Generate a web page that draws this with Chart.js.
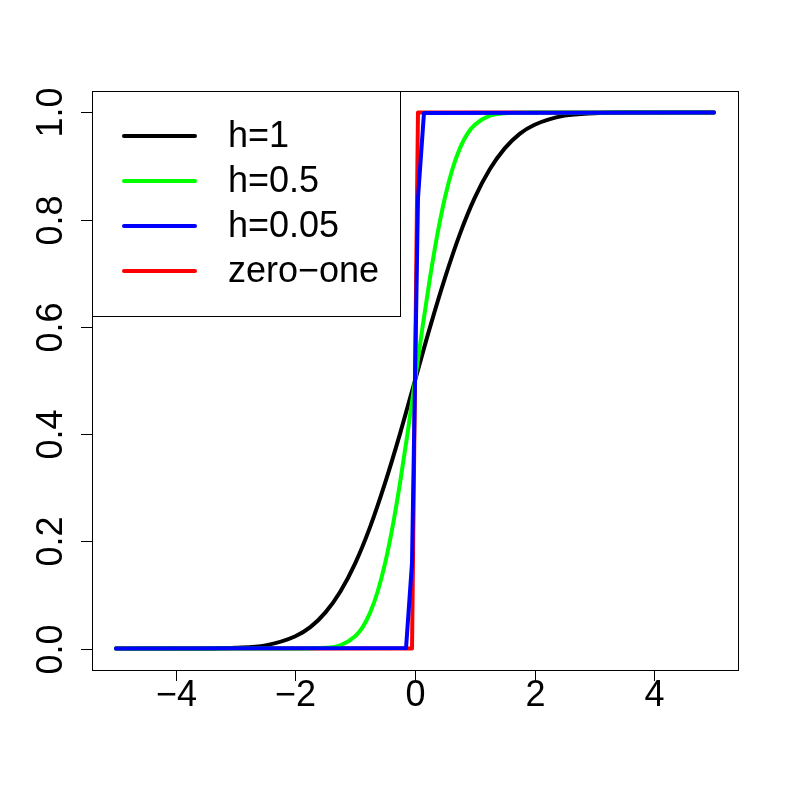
<!DOCTYPE html>
<html>
<head>
<meta charset="utf-8">
<script src="https://cdn.jsdelivr.net/npm/chart.js@4/dist/chart.umd.min.js"></script>
<style>
  body { margin: 0; background: #fff; }
  canvas { display: block; }
</style>
</head>
<body>
<canvas id="myChart" width="785" height="785"></canvas>
<script>
// curves
const xH1 = [-5, -4, -3.5, -3, -2.5, -2, -1.75, -1.5, -1.25, -1, -0.75, -0.5, -0.25, 0, 0.25, 0.5, 0.75, 1, 1.25, 1.5, 1.75, 2, 2.5, 3, 3.5, 4, 5];
const yH1 = [0, 0, 0.0002, 0.0013, 0.006, 0.023, 0.04, 0.067, 0.106, 0.159, 0.227, 0.309, 0.401, 0.5, 0.599, 0.691, 0.773, 0.841, 0.894, 0.933, 0.96, 0.977, 0.994, 0.9987, 0.9998, 1, 1];

const xH05 = [-5, -2, -1.5, -1.25, -1, -0.875, -0.75, -0.625, -0.5, -0.375, -0.25, -0.125, 0, 0.125, 0.25, 0.375, 0.5, 0.625, 0.75, 0.875, 1, 1.25, 1.5, 2, 5];
const yH05 = [0, 0, 0.0013, 0.006, 0.023, 0.04, 0.067, 0.106, 0.159, 0.227, 0.309, 0.401, 0.5, 0.599, 0.691, 0.773, 0.841, 0.894, 0.933, 0.96, 0.977, 0.994, 0.9987, 1, 1];

const xH005 = [-5, -0.15, -0.05, 0.05, 0.15, 5];
const yH005 = [0, 0.001, 0.16, 0.84, 0.999, 1];

const xZero = [-5, -0.05, 0.05, 5];
const yZero = [0, 0, 1, 1];

const seriesNames = ["h=1", "h=0.5", "h=0.05", "zero\u2212one"];
const seriesColors = ["#000000", "#00ff00", "#0000ff", "#ff0000"];

const xTicks = [-4, -2, 0, 2, 4];
const xTickLabels = ["\u22124", "\u22122", "0", "2", "4"];
const yTicks = [0, 0.2, 0.4, 0.6, 0.8, 1.0];
const yTickLabels = ["0.0", "0.2", "0.4", "0.6", "0.8", "1.0"];

const pts = (xs, ys) => xs.map((x, i) => ({ x: x, y: ys[i] }));

const FONT = "36px 'Liberation Sans', Arial, sans-serif";

// R style box, axes and legend
const rAxes = {
  id: "rAxes",
  afterDraw(chart) {
    const ctx = chart.ctx;
    const a = chart.chartArea;
    const xs = chart.scales.x, ys = chart.scales.y;
    ctx.save();
    ctx.strokeStyle = "#000";
    ctx.lineWidth = 1;
    ctx.strokeRect(a.left + 0.5, a.top + 0.5, a.right - a.left, a.bottom - a.top);

    ctx.fillStyle = "#000";
    ctx.font = FONT;
    // x axis
    ctx.textAlign = "center";
    ctx.textBaseline = "middle";
    xTicks.forEach((v, i) => {
      const px = Math.round(xs.getPixelForValue(v)) + 0.5;
      ctx.beginPath();
      ctx.moveTo(px, a.bottom);
      ctx.lineTo(px, a.bottom + 11);
      ctx.stroke();
      ctx.fillText(xTickLabels[i], px, a.bottom + 26);
    });
    // y axis, labels rotated
    yTicks.forEach((v, i) => {
      const py = Math.round(ys.getPixelForValue(v)) + 0.5;
      ctx.beginPath();
      ctx.moveTo(a.left, py);
      ctx.lineTo(a.left - 11, py);
      ctx.stroke();
      ctx.save();
      ctx.translate(a.left - 40, py);
      ctx.rotate(-Math.PI / 2);
      ctx.fillText(yTickLabels[i], 0, 0);
      ctx.restore();
    });

    // legend
    const lx = a.left, ly = a.top, lw = 308, lh = 225;
    ctx.strokeRect(lx + 0.5, ly + 0.5, lw, lh);
    ctx.textAlign = "left";
    seriesNames.forEach((name, i) => {
      const y = ly + 45 + i * 45;
      ctx.strokeStyle = seriesColors[i];
      ctx.lineWidth = 4;
      ctx.lineCap = "round";
      ctx.beginPath();
      ctx.moveTo(lx + 32, y);
      ctx.lineTo(lx + 103, y);
      ctx.stroke();
      ctx.fillStyle = "#000";
      ctx.fillText(name, lx + 136, y + 1);
    });
    ctx.restore();
  }
};

// lower order ends up on top
const lineStyle = (color, order, smooth) => ({
  borderColor: color,
  borderWidth: 4,
  borderCapStyle: "round",
  borderJoinStyle: "round",
  pointRadius: 0,
  fill: false,
  order: order,
  cubicInterpolationMode: smooth ? "monotone" : "default",
  tension: 0
});

const config = {
  type: "line",
  data: {
    datasets: [
      Object.assign({ label: seriesNames[0], data: pts(xH1, yH1) }, lineStyle(seriesColors[0], 2, true)),
      Object.assign({ label: seriesNames[1], data: pts(xH05, yH05) }, lineStyle(seriesColors[1], 1, true)),
      Object.assign({ label: seriesNames[2], data: pts(xH005, yH005) }, lineStyle(seriesColors[2], 0, false)),
      Object.assign({ label: seriesNames[3], data: pts(xZero, yZero) }, lineStyle(seriesColors[3], 3, false))
    ]
  },
  options: {
    responsive: false,
    animation: false,
    layout: { padding: { left: 92, top: 91, right: 47, bottom: 115 } },
    plugins: { legend: { display: false }, tooltip: { enabled: false } },
    scales: {
      x: { type: "linear", min: -5.4, max: 5.4, display: false },
      y: { type: "linear", min: -0.04, max: 1.04, display: false }
    }
  },
  plugins: [rAxes]
};

const ctx = document.getElementById("myChart").getContext("2d");
const myChart = new Chart(ctx, config);
</script>
</body>
</html>
